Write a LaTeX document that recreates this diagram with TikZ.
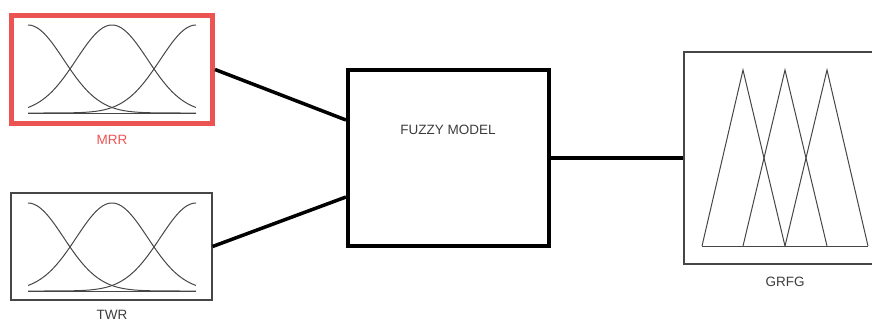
\documentclass[tikz,border=0pt]{standalone}
\usepackage{fontspec}
\setmainfont{Liberation Sans}
\usetikzlibrary{calc}
\definecolor{mrrred}{RGB}{236,84,84}
\definecolor{txtgray}{RGB}{60,60,60}
\definecolor{curvegray}{RGB}{70,70,70}
\begin{document}
\begin{tikzpicture}[x=1pt,y=-1pt,
  thinbox/.style={draw=curvegray,line width=1.1pt,inner sep=0pt},
  redbox/.style={draw=mrrred,line width=5pt,inner sep=0pt},
  modelbox/.style={draw=black,line width=4pt,inner sep=0pt},
  conn/.style={black,line width=3.5pt},
  mf/.style={curvegray,line width=1pt},
  lbl/.style={font=\fontsize{13.5}{15}\selectfont,text=txtgray,inner sep=0pt}]
\useasboundingbox (0,0) rectangle (872,322);
% boxes
\node[redbox,minimum width=201pt,minimum height=108pt] (mrr) at (112,69.5) {};
\node[thinbox,minimum width=201pt,minimum height=107pt] (twr) at (111.5,246.5) {};
\node[modelbox,minimum width=201pt,minimum height=176pt] (fuzzy) at (448.5,158) {};
\node[thinbox,minimum width=196pt,minimum height=212pt] (grfg) at (782,158) {};
% labels
\node[lbl,text=mrrred] (mrrlbl) at (112,140) {MRR};
\node[lbl] (twrlbl) at (112,315) {TWR};
\node[lbl] (fuzzylbl) at (448,130) {FUZZY MODEL};
\node[lbl] (grfglbl) at (785,282) {GRFG};
% connectors
\draw[conn] (mrr.east) -- ([yshift=38pt]fuzzy.west);
\draw[conn] (twr.east) -- ([yshift=-39pt]fuzzy.west);
\draw[conn] (fuzzy.east) -- (grfg.west);
% gaussian membership functions (MRR)
\foreach \c in {28,112,196}{
  \draw[mf] plot[domain=28:196,samples=80,smooth] (\x,{113-88*exp(-0.5*((\x-\c)/35.7)^2)});
}
\draw[mf] (28,113) -- (196,113);
% gaussian membership functions (TWR)
\foreach \c in {28,112,196}{
  \draw[mf] plot[domain=28:196,samples=80,smooth] (\x,{291-88*exp(-0.5*((\x-\c)/35.7)^2)});
}
\draw[mf] (28,291) -- (196,291);
% triangular membership functions (GRFG)
\draw[mf] (702,246) -- (743,70) -- (785,246);
\draw[mf] (743,246) -- (785,70) -- (827,246);
\draw[mf] (785,246) -- (827,70) -- (868,246);
\draw[mf] (702,246) -- (868,246);
\end{tikzpicture}
\end{document}
